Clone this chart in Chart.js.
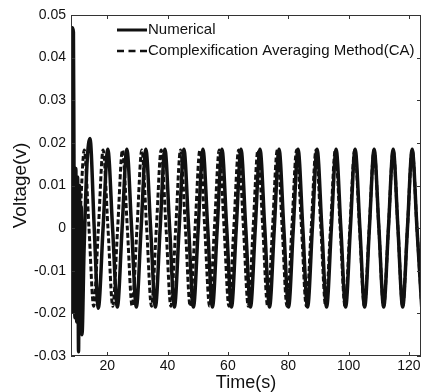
<!DOCTYPE html>
<html>
<head>
<meta charset="utf-8">
<script src="https://cdn.jsdelivr.net/npm/chart.js@4"></script>
<style>
  html, body { margin: 0; padding: 0; background: #fff; }
  #wrap { width: 422px; height: 392px; }
</style>
</head>
<body>
<div id="wrap"><canvas id="chart" width="422" height="392"></canvas></div>
<script>
// --- Data (time in s, voltage in V) ---
// Numerical solution: start-up transient, then steady oscillation
const numT = [8.1, 8.4, 8.8, 9.0, 9.3, 9.6, 9.9, 10.2, 10.5, 10.8, 11.1, 11.4, 11.65, 12.3, 13.3, 14.3, 15.7,
  17.05, 18.63, 20.2, 21.78,
  23.36, 24.94, 26.51, 28.09,
  29.66, 31.24, 32.81, 34.39,
  35.97, 37.55, 39.12, 40.7,
  42.27, 43.85, 45.42, 47.0,
  48.58, 50.16, 51.73, 53.31,
  54.88, 56.46, 58.03, 59.61,
  61.19, 62.77, 64.34, 65.92,
  67.49, 69.07, 70.64, 72.22,
  73.8, 75.38, 76.95, 78.53,
  80.1, 81.68, 83.25, 84.83,
  86.41, 87.99, 89.56, 91.14,
  92.71, 94.29, 95.86, 97.44,
  99.02, 100.6, 102.17, 103.75,
  105.32, 106.9, 108.47, 110.05,
  111.63, 113.21, 114.78, 116.36,
  117.93, 119.51, 121.08, 122.66,
  124.23];
const numV = [-0.020, 0.047, 0.046, 0.013, -0.021, 0.014, -0.022, 0.012, -0.029, 0.010, -0.020, 0.005, -0.025, -0.006, 0.015, 0.021, 0.000,
  -0.0188, 0, 0.0185, 0,
  -0.0185, 0, 0.0185, 0,
  -0.0185, 0, 0.0185, 0,
  -0.0185, 0, 0.0185, 0,
  -0.0185, 0, 0.0185, 0,
  -0.0185, 0, 0.0185, 0,
  -0.0185, 0, 0.0185, 0,
  -0.0185, 0, 0.0185, 0,
  -0.0185, 0, 0.0185, 0,
  -0.0185, 0, 0.0185, 0,
  -0.0185, 0, 0.0185, 0,
  -0.0185, 0, 0.0185, 0,
  -0.0185, 0, 0.0185, 0,
  -0.0185, 0, 0.0185, 0,
  -0.0185, 0, 0.0185, 0,
  -0.0185, 0, 0.0185, 0,
  -0.0185, 0, 0.0185, 0,
  -0.0185];

// Complexification Averaging (CA): leads the numerical curve early, merges later
const caT = [8.1, 9.25, 10.83, 12.4, 13.96,
  15.52, 17.08, 18.64, 20.25,
  21.85, 23.46, 25.06, 26.67,
  28.27, 29.87, 31.47, 33.08,
  34.68, 36.29, 37.89, 39.5,
  41.1, 42.7, 44.3, 45.91,
  47.51, 49.12, 50.72, 52.33,
  53.93, 55.53, 57.13, 58.74,
  60.34, 61.95, 63.55, 65.16,
  66.76, 68.36, 69.96, 71.57,
  73.17, 74.78, 76.38, 77.99,
  79.59, 81.19, 82.79, 84.4,
  86.0, 87.61, 89.21, 90.81,
  92.41, 94.01, 95.61, 97.22,
  98.82, 100.43, 102.03, 103.64,
  105.24, 106.84, 108.44, 110.03,
  111.61, 113.2, 114.78, 116.36,
  117.93, 119.5, 121.08, 122.66,
  124.23];
const caV = [-0.012, -0.0183, 0, 0.0183, 0,
  -0.0183, 0, 0.0183, 0,
  -0.0183, 0, 0.0183, 0,
  -0.0183, 0, 0.0183, 0,
  -0.0183, 0, 0.0183, 0,
  -0.0183, 0, 0.0183, 0,
  -0.0183, 0, 0.0183, 0,
  -0.0183, 0, 0.0183, 0,
  -0.0183, 0, 0.0183, 0,
  -0.0183, 0, 0.0183, 0,
  -0.0183, 0, 0.0183, 0,
  -0.0183, 0, 0.0183, 0,
  -0.0183, 0, 0.0183, 0,
  -0.0183, 0, 0.0183, 0,
  -0.0183, 0, 0.0183, 0,
  -0.0183, 0, 0.0183, 0,
  -0.0183, 0, 0.0183, 0,
  -0.0183, 0, 0.0183, 0,
  -0.0183];

const xTicks = [20, 40, 60, 80, 100, 120];
const yTicks = [-0.03, -0.02, -0.01, 0, 0.01, 0.02, 0.03, 0.04, 0.05];
const yTickLabels = ['-0.03', '-0.02', '-0.01', '0', '0.01', '0.02', '0.03', '0.04', '0.05'];
const seriesNames = ['Numerical', 'Complexification Averaging Method(CA)'];

const INK = '#111';
const FONT = "'Liberation Sans', Arial, sans-serif";

// Box around the plot, inward tick marks, and the in-plot legend
const frame = {
  id: 'frame',
  afterDraw(chart) {
    const { ctx, chartArea: a, scales: { x, y } } = chart;
    const tl = 4;
    ctx.save();
    ctx.strokeStyle = '#333';
    ctx.lineWidth = 1;
    ctx.strokeRect(a.left + 0.5, a.top + 0.5, a.right - a.left - 1, a.bottom - a.top - 1);
    ctx.beginPath();
    xTicks.forEach(v => {
      const px = Math.round(x.getPixelForValue(v)) + 0.5;
      ctx.moveTo(px, a.bottom); ctx.lineTo(px, a.bottom - tl);
      ctx.moveTo(px, a.top); ctx.lineTo(px, a.top + tl);
    });
    yTicks.forEach(v => {
      const py = Math.round(y.getPixelForValue(v)) + 0.5;
      ctx.moveTo(a.left, py); ctx.lineTo(a.left + tl, py);
      ctx.moveTo(a.right, py); ctx.lineTo(a.right - tl, py);
    });
    ctx.stroke();

    // legend
    ctx.strokeStyle = INK;
    ctx.fillStyle = INK;
    ctx.font = '15px ' + FONT;
    ctx.textBaseline = 'middle';
    ctx.lineWidth = 3;
    ctx.beginPath(); ctx.moveTo(117, 30); ctx.lineTo(147, 30); ctx.stroke();
    ctx.fillText(seriesNames[0], 148, 30);
    ctx.lineWidth = 2.5;
    ctx.setLineDash([7, 4.5]);
    ctx.beginPath(); ctx.moveTo(117, 51); ctx.lineTo(147, 51); ctx.stroke();
    ctx.setLineDash([]);
    ctx.fillText(seriesNames[1], 148, 51);
    ctx.restore();
  }
};

new Chart(document.getElementById('chart'), {
  type: 'line',
  data: {
    datasets: [
      {
        label: seriesNames[0],
        data: numT.map((t, i) => ({ x: t, y: numV[i] })),
        borderColor: INK,
        borderWidth: 3.5,
        pointRadius: 0,
        cubicInterpolationMode: 'monotone',
        fill: false
      },
      {
        label: seriesNames[1],
        data: caT.map((t, i) => ({ x: t, y: caV[i] })),
        borderColor: INK,
        borderWidth: 3,
        borderDash: [5, 2.5],
        pointRadius: 0,
        cubicInterpolationMode: 'monotone',
        fill: false
      }
    ]
  },
  options: {
    responsive: false,
    animation: false,
    devicePixelRatio: 1,
    layout: { padding: { top: 15, right: 1, left: 0, bottom: 0 } },
    plugins: { legend: { display: false }, tooltip: { enabled: false } },
    scales: {
      x: {
        type: 'linear',
        min: 8,
        max: 124,
        afterBuildTicks: s => { s.ticks = xTicks.map(v => ({ value: v })); },
        afterFit: s => { s.height = 36; s.paddingLeft = 0; s.paddingRight = 0; },
        grid: { display: false, drawTicks: false },
        border: { display: false },
        ticks: { color: INK, padding: 2, maxRotation: 0, font: { family: FONT, size: 14 } },
        title: { display: true, text: 'Time(s)', color: INK, padding: 0, font: { family: FONT, size: 18, lineHeight: 1 } }
      },
      y: {
        min: -0.03,
        max: 0.05,
        afterBuildTicks: s => { s.ticks = yTicks.map(v => ({ value: v })); },
        afterFit: s => { s.width = 71; s.paddingTop = 0; s.paddingBottom = 0; },
        grid: { display: false, drawTicks: false },
        border: { display: false },
        ticks: {
          color: INK,
          padding: 5,
          font: { family: FONT, size: 14 },
          callback: (v, i) => yTickLabels[i]
        },
        title: { display: true, text: 'Voltage(v)', color: INK, padding: { top: 9, bottom: 0 }, font: { family: FONT, size: 19 } }
      }
    }
  },
  plugins: [frame]
});
</script>
</body>
</html>
